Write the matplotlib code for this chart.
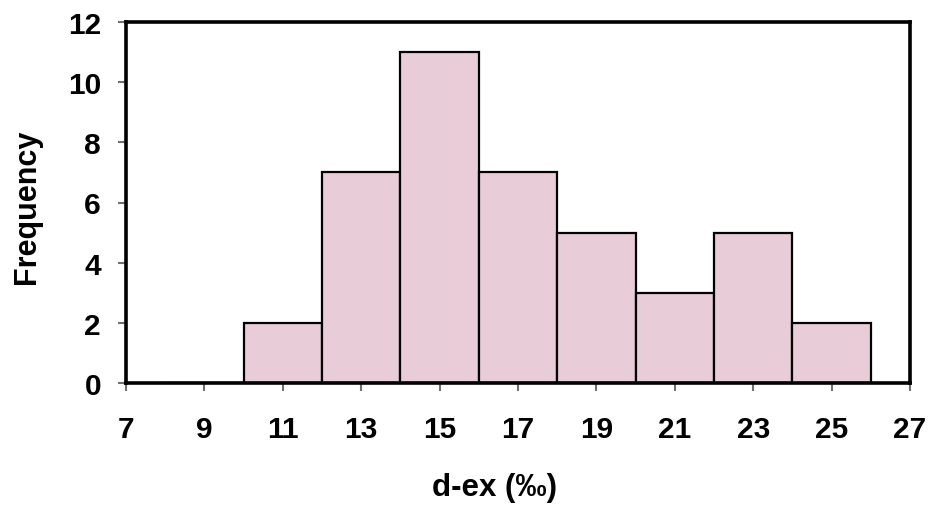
import matplotlib
matplotlib.use("Agg")
import matplotlib.pyplot as plt

bin_edges = [8, 10, 12, 14, 16, 18, 20, 22, 24, 26]
frequencies = [0, 2, 7, 11, 7, 5, 3, 5, 2]
x_ticks = [7, 9, 11, 13, 15, 17, 19, 21, 23, 25, 27]
y_ticks = [0, 2, 4, 6, 8, 10, 12]

plt.rcParams['font.family'] = ['Liberation Sans', 'DejaVu Sans']
plt.rcParams['font.weight'] = 'bold'

fig = plt.figure(figsize=(9.31, 5.06), dpi=100)
ax = fig.add_axes([126/931, 1-384/506, (910-126)/931, (384-23)/506])

lefts = bin_edges[:-1]
widths = [b - a for a, b in zip(bin_edges[:-1], bin_edges[1:])]
ax.bar(lefts, frequencies, width=widths, align='edge', color='#e8cdd9',
       edgecolor='black', linewidth=1.6, zorder=2)

ax.set_xlim(7, 27)
ax.set_ylim(0, 12)
ax.set_xticks(x_ticks)
ax.set_yticks(y_ticks)
ax.set_xticklabels([str(v) for v in x_ticks], fontsize=21.5, fontweight='bold')
ax.set_yticklabels([str(v) for v in y_ticks], fontsize=21.5, fontweight='bold')
ax.tick_params(axis='both', direction='out', length=6, width=1.5, color='#707070')
ax.tick_params(axis='x', pad=17)
ax.tick_params(axis='y', pad=12)

for s in ax.spines.values():
    s.set_linewidth(2.6)
    s.set_color('black')
    s.set_zorder(3)

fig.text(495/931, 1-488/506, 'd-ex (‰)', fontsize=22.5, fontweight='bold',
         ha='center', va='center')
fig.text(27/931, 1-207/506, 'Frequency', fontsize=22, fontweight='bold',
         ha='center', va='center', rotation=90)

fig.savefig('out.png', dpi=100)
